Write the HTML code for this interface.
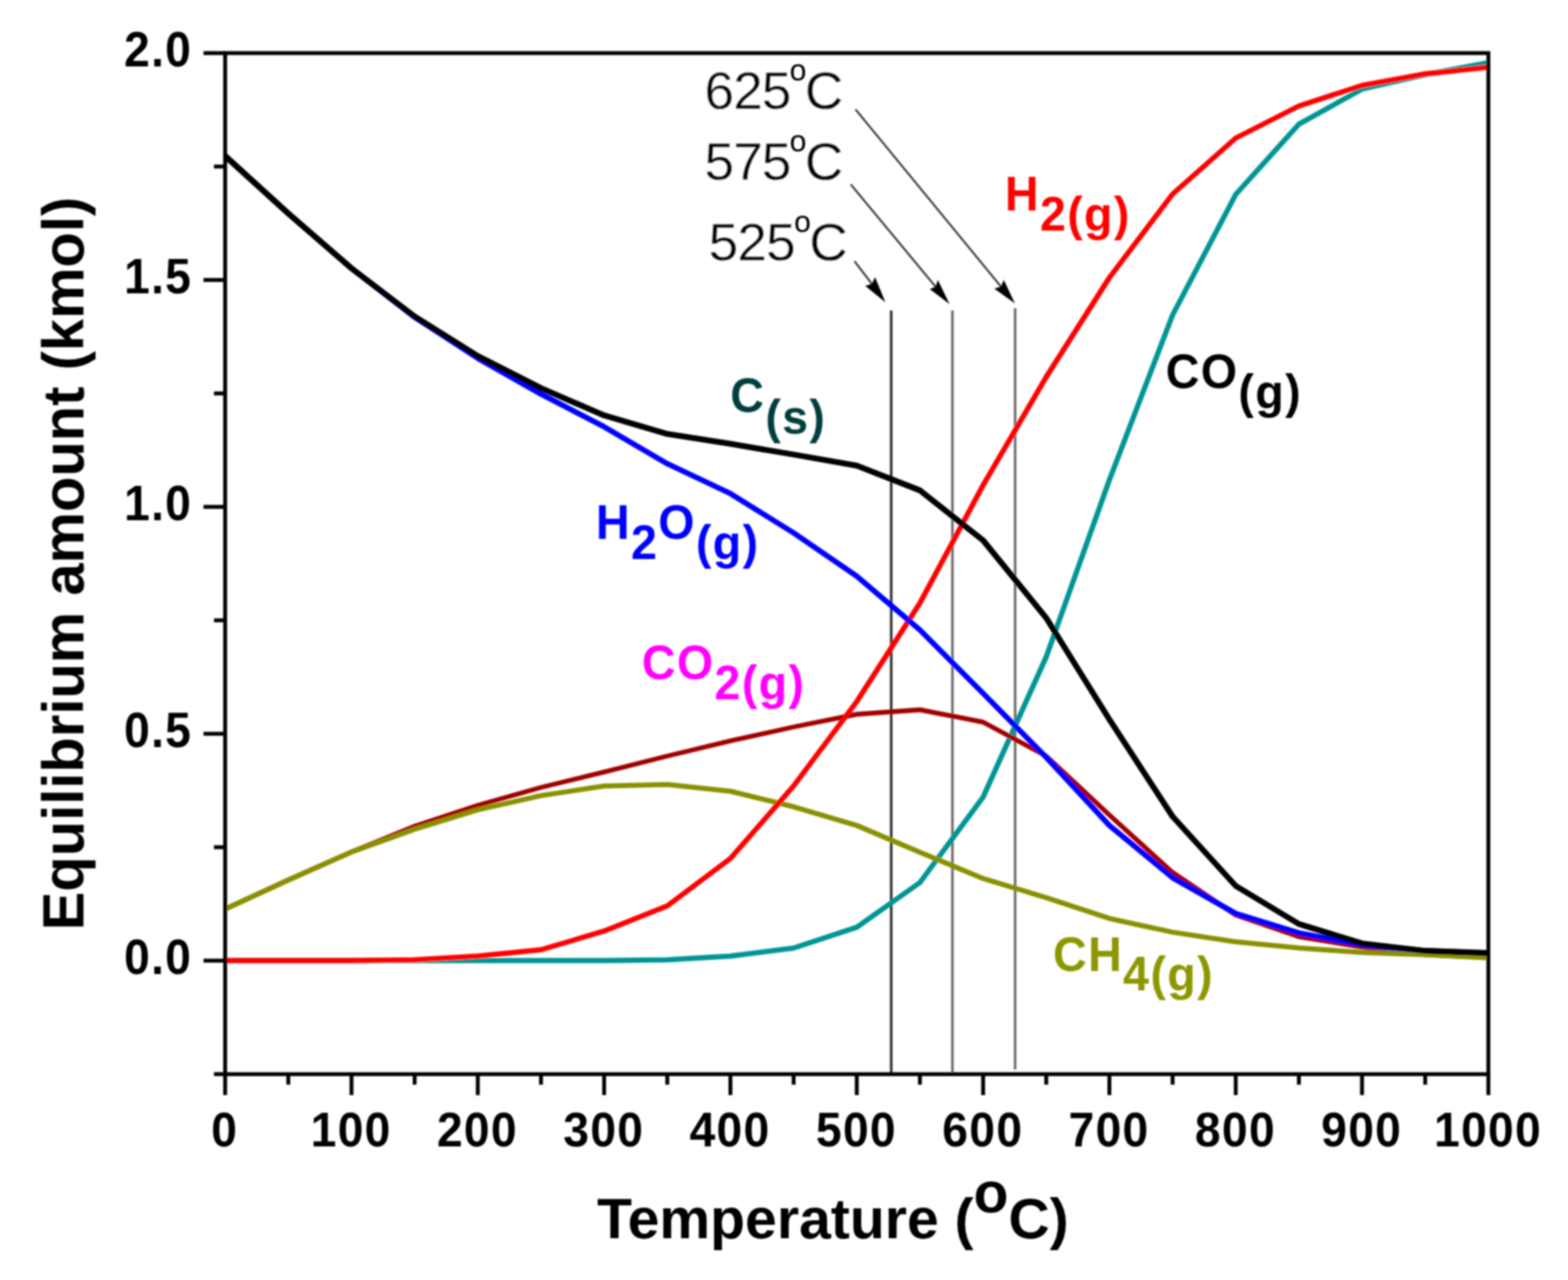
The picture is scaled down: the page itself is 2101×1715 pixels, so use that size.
<!DOCTYPE html><html><head><meta charset="utf-8"><title>Equilibrium amount vs temperature</title>
<style>html,body{margin:0;padding:0;background:#fff;overflow:hidden;}svg{display:block;}text{font-family:'Liberation Sans', Arial, Helvetica, sans-serif;}</style></head><body>
<svg width="2101" height="1715" viewBox="0 0 2101 1715">
<defs><filter id="soft" x="0" y="0" width="2101" height="1715" filterUnits="userSpaceOnUse"><feGaussianBlur stdDeviation="0.9"/></filter></defs>
<rect width="2101" height="1715" fill="#fff"/>
<g filter="url(#soft)">
<line x1="1194.2" y1="416" x2="1194.2" y2="1437" stroke="#2a2a2a" stroke-width="3.4"/>
<line x1="1276.2" y1="416" x2="1276.2" y2="1437" stroke="#6a6a6a" stroke-width="3.4"/>
<line x1="1360.2" y1="413" x2="1360.2" y2="1433" stroke="#6a6a6a" stroke-width="3.4"/>
<g fill="none" stroke-width="7.0" stroke-linejoin="round" stroke-linecap="butt">
<polyline stroke="#009494" stroke-width="7.0" points="301.7,1287.0 386.3,1287.0 471.0,1287.0 555.6,1287.0 640.2,1287.0 724.9,1287.0 809.5,1287.0 894.1,1286.0 978.7,1281.0 1063.4,1270.3 1148.0,1242.4 1232.6,1182.5 1317.3,1068.0 1401.9,880.0 1486.5,643.0 1571.2,422.0 1655.8,260.5 1740.4,166.4 1825.0,119.4 1909.7,100.0 1994.3,84.0"/>
<polyline stroke="#a20000" stroke-width="6.4" points="301.7,1218.0 386.3,1179.0 471.0,1141.5 555.6,1107.0 640.2,1079.0 724.9,1055.0 809.5,1034.3 894.1,1013.0 978.7,992.7 1063.4,974.0 1148.0,957.0 1232.6,951.0 1317.3,967.5 1401.9,1013.0 1486.5,1092.0 1571.2,1169.0 1655.8,1226.0 1740.4,1255.0 1825.0,1269.0 1909.7,1279.0 1994.3,1283.0"/>
<polyline stroke="#899000" stroke-width="6.8" points="301.7,1218.0 386.3,1179.2 471.0,1141.5 555.6,1111.0 640.2,1085.0 724.9,1066.0 809.5,1053.2 894.1,1051.2 978.7,1060.1 1063.4,1080.9 1148.0,1106.0 1232.6,1141.8 1317.3,1177.1 1401.9,1202.8 1486.5,1230.6 1571.2,1249.0 1655.8,1261.8 1740.4,1270.2 1825.0,1276.1 1909.7,1279.0 1994.3,1283.3"/>
<polyline stroke="#ff0000" stroke-width="7.0" points="301.7,1287.0 386.3,1287.0 471.0,1287.0 555.6,1286.0 640.2,1281.0 724.9,1272.5 809.5,1247.4 894.1,1213.7 978.7,1150.3 1063.4,1053.0 1148.0,940.0 1232.6,808.0 1317.3,650.0 1401.9,505.0 1486.5,372.0 1571.2,260.0 1655.8,185.0 1740.4,142.0 1825.0,114.5 1909.7,99.0 1994.3,90.0"/>
<polyline stroke="#0000ff" stroke-width="7.3" points="301.7,209.0 386.3,286.0 471.0,359.5 555.6,425.0 640.2,480.0 724.9,528.0 809.5,571.8 894.1,621.3 978.7,661.3 1063.4,714.0 1148.0,772.0 1232.6,844.0 1317.3,929.0 1401.9,1014.7 1486.5,1106.0 1571.2,1176.0 1655.8,1224.0 1740.4,1250.0 1825.0,1266.0 1909.7,1274.0 1994.3,1277.0"/>
<polyline stroke="#000000" stroke-width="7.8" points="301.7,209.0 386.3,286.0 471.0,359.5 555.6,424.0 640.2,477.0 724.9,520.0 809.5,556.6 894.1,581.4 978.7,594.7 1063.4,609.0 1148.0,623.8 1232.6,657.0 1317.3,724.0 1401.9,828.0 1486.5,964.0 1571.2,1094.0 1655.8,1187.0 1740.4,1238.0 1825.0,1264.0 1909.7,1274.0 1994.3,1277.0"/>
</g>
<rect x="301.7" y="71.1" width="1692.6" height="1368.1" fill="none" stroke="#000" stroke-width="5.2"/>
<path d="M286.7,1439.1H301.7 M272.7,1287.1H301.7 M286.7,1135.1H301.7 M272.7,983.1H301.7 M286.7,831.1H301.7 M272.7,679.1H301.7 M286.7,527.1H301.7 M272.7,375.1H301.7 M286.7,223.1H301.7 M272.7,71.1H301.7 M301.7,1439.2V1467.2 M386.3,1439.2V1453.2 M471.0,1439.2V1467.2 M555.6,1439.2V1453.2 M640.2,1439.2V1467.2 M724.9,1439.2V1453.2 M809.5,1439.2V1467.2 M894.1,1439.2V1453.2 M978.7,1439.2V1467.2 M1063.4,1439.2V1453.2 M1148.0,1439.2V1467.2 M1232.6,1439.2V1453.2 M1317.3,1439.2V1467.2 M1401.9,1439.2V1453.2 M1486.5,1439.2V1467.2 M1571.2,1439.2V1453.2 M1655.8,1439.2V1467.2 M1740.4,1439.2V1453.2 M1825.0,1439.2V1467.2 M1909.7,1439.2V1453.2 M1994.3,1439.2V1467.2" stroke="#000" stroke-width="5.2" fill="none"/>
<g font-size="62" font-weight="bold" fill="#000" letter-spacing="1.7">
<text transform="translate(257.5,1305.1) scale(1,1.07)" text-anchor="end">0.0</text>
<text transform="translate(257.5,1001.1) scale(1,1.07)" text-anchor="end">0.5</text>
<text transform="translate(257.5,697.1) scale(1,1.07)" text-anchor="end">1.0</text>
<text transform="translate(257.5,393.1) scale(1,1.07)" text-anchor="end">1.5</text>
<text transform="translate(257.5,89.1) scale(1,1.07)" text-anchor="end">2.0</text>
<text transform="translate(301.2,1535.5) scale(1,1.06)" text-anchor="middle">0</text>
<text transform="translate(470.5,1535.5) scale(1,1.06)" text-anchor="middle">100</text>
<text transform="translate(639.7,1535.5) scale(1,1.06)" text-anchor="middle">200</text>
<text transform="translate(809.0,1535.5) scale(1,1.06)" text-anchor="middle">300</text>
<text transform="translate(978.2,1535.5) scale(1,1.06)" text-anchor="middle">400</text>
<text transform="translate(1147.5,1535.5) scale(1,1.06)" text-anchor="middle">500</text>
<text transform="translate(1316.8,1535.5) scale(1,1.06)" text-anchor="middle">600</text>
<text transform="translate(1486.0,1535.5) scale(1,1.06)" text-anchor="middle">700</text>
<text transform="translate(1655.3,1535.5) scale(1,1.06)" text-anchor="middle">800</text>
<text transform="translate(1824.5,1535.5) scale(1,1.06)" text-anchor="middle">900</text>
<text transform="translate(1993.8,1535.5) scale(1,1.06)" text-anchor="middle">1000</text>
</g>
<text transform="translate(111.8,755) rotate(-90)" text-anchor="middle" font-size="77.6" font-weight="bold" fill="#000">Equilibrium amount (kmol)</text>
<text x="800" y="1659" font-size="76.5" font-weight="bold" fill="#000">Temperature (<tspan dy="-35">o</tspan><tspan dy="35">C)</tspan></text>
<text transform="translate(1346.5,282) scale(1,1.045)" font-size="62.5" font-weight="bold" fill="#ff0000" letter-spacing="1.8"><tspan>H</tspan><tspan dy="25.6">2(g)</tspan></text>
<text transform="translate(1562,520) scale(1,1.045)" font-size="62.5" font-weight="bold" fill="#000000" letter-spacing="1.8"><tspan>CO</tspan><tspan dy="25.6">(g)</tspan></text>
<text transform="translate(978.5,552) scale(1,1.045)" font-size="62.5" font-weight="bold" fill="#003c3c" letter-spacing="1.8"><tspan>C</tspan><tspan dy="27.5">(s)</tspan></text>
<text transform="translate(798.5,722) scale(1,1.045)" font-size="62.5" font-weight="bold" fill="#0000ff" letter-spacing="1.8"><tspan>H</tspan><tspan dy="25.6">2</tspan><tspan dy="-25.6">O</tspan><tspan dy="25.6">(g)</tspan></text>
<text transform="translate(860,910) scale(1,1.045)" font-size="62.5" font-weight="bold" fill="#ff00ff" letter-spacing="1.8"><tspan>CO</tspan><tspan dy="25.6">2(g)</tspan></text>
<text transform="translate(1411,1300.5) scale(1,1.045)" font-size="62.5" font-weight="bold" fill="#8c9600" letter-spacing="1.8"><tspan>CH</tspan><tspan dy="25.6">4(g)</tspan></text>
<text x="944.0" y="145.6" font-size="71.2" fill="#000" stroke="#fff" stroke-width="0.3" letter-spacing="-1.2">625<tspan x="1057.9" font-size="40.5" stroke="none" dy="-37.5">o</tspan><tspan x="1078.4" dy="37.5">C</tspan></text>
<text x="944.0" y="240.6" font-size="71.2" fill="#000" stroke="#fff" stroke-width="0.3" letter-spacing="-1.2">575<tspan x="1057.9" font-size="40.5" stroke="none" dy="-37.5">o</tspan><tspan x="1078.4" dy="37.5">C</tspan></text>
<text x="949.6" y="348.6" font-size="71.2" fill="#000" stroke="#fff" stroke-width="0.3" letter-spacing="-1.2">525<tspan x="1063.9" font-size="40.5" stroke="none" dy="-37.5">o</tspan><tspan x="1084.4" dy="37.5">C</tspan></text>
<line x1="1146.3" y1="146.4" x2="1341.2" y2="384.0" stroke="#2a2a2a" stroke-width="2.4"/><polygon points="1359.9,406.6 1332.3,386.8 1341.2,384.0 1345.0,375.0" fill="#000"/>
<line x1="1139.9" y1="247.0" x2="1253.7" y2="384.3" stroke="#2a2a2a" stroke-width="2.4"/><polygon points="1272.4,407.4 1245.8,387.3 1253.7,384.3 1256.6,375.0" fill="#000"/>
<line x1="1145.0" y1="350.0" x2="1168.3" y2="380.5" stroke="#2a2a2a" stroke-width="2.4"/><polygon points="1186.4,405.0 1159.3,383.1 1168.3,380.5 1172.4,371.3" fill="#000"/>
</g></svg></body></html>
